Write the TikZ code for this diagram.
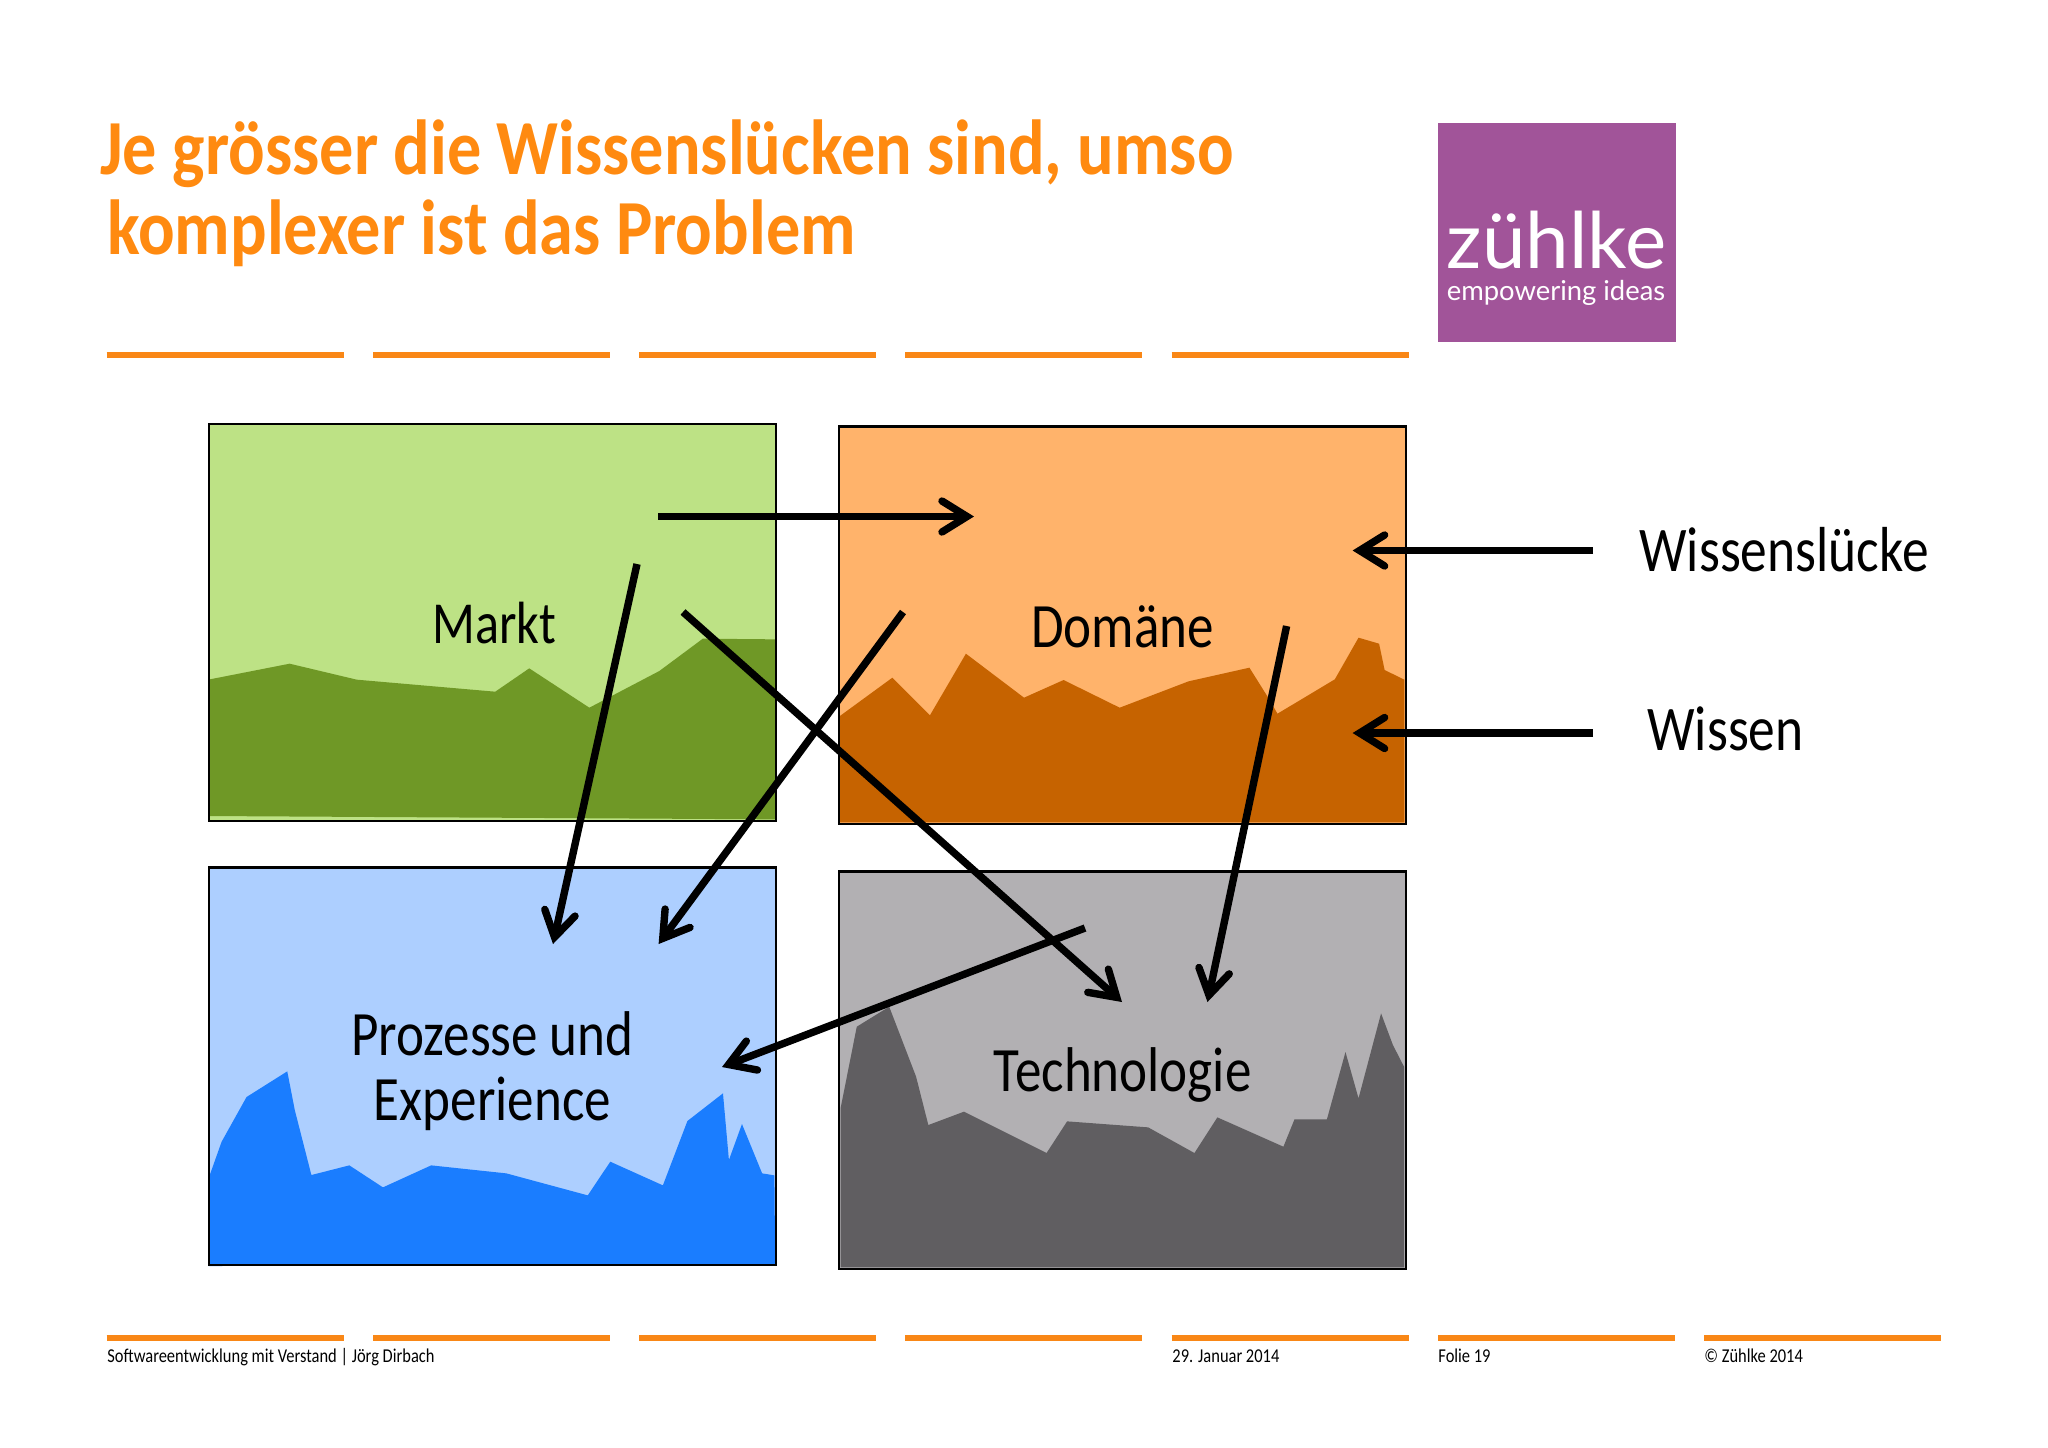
\documentclass[tikz,border=0pt]{standalone}
\usepackage{fontspec}
\usetikzlibrary{arrows.meta}
\setmainfont[FakeStretch=0.84]{Carlito}
\newfontfamily\titlefont[FakeStretch=0.875]{Carlito}
\newfontfamily\logofont{Lato}
\definecolor{ttl}{HTML}{FF8A10}
\definecolor{rulec}{HTML}{F98716}
\definecolor{gl}{HTML}{BDE285}
\definecolor{gd}{HTML}{6F9826}
\definecolor{ol}{HTML}{FFB36B}
\definecolor{od}{HTML}{C66300}
\definecolor{bl}{HTML}{ADCFFF}
\definecolor{bd}{HTML}{1A7DFF}
\definecolor{kl}{HTML}{B2B0B3}
\definecolor{kd}{HTML}{605E61}
\definecolor{logoc}{HTML}{A15499}
\tikzset{
  box/.style={draw=black,line width=1.1pt,inner sep=0pt,minimum width=283.4pt,minimum height=198.8pt},
  lab/.style={inner sep=0pt,align=center,font=\fontsize{31.6}{32.5}\selectfont},
  arr/.style={line width=3.7pt,-{Straight Barb[length=12.5pt,width=15.5pt,line cap=round,line join=miter]}},
  orule/.style={draw=rulec,line width=2.6pt},
  foot/.style={anchor=base west,inner sep=0pt,font=\fontsize{9.8}{12}\selectfont},
  side/.style={anchor=base west,inner sep=0pt,font=\fontsize{31.8}{34}\selectfont},
  ttlnode/.style={anchor=base west,inner sep=0pt,text=ttl,font=\titlefont\fontsize{39}{40}\selectfont\bfseries},
}
\begin{document}
\begin{tikzpicture}[x=0.5pt,y=-0.5pt]
\useasboundingbox (0,0) rectangle (2048,1447);
\fill[white] (0,0) rectangle (2048,1447);
% title
\node[ttlnode] (t1) at (100,174.5) {Je grösser die Wissenslücken sind, umso};
\node[ttlnode] (t2) at (107,254.5) {komplexer ist das Problem};
% logo
\node[fill=logoc,inner sep=0pt,minimum width=119.2pt,minimum height=109.6pt] (logo) at (1556.9,232.2) {};
\node[anchor=base,inner sep=0pt,text=white,font=\logofont\fontsize{39}{40}\selectfont] (lg1) at (1556.5,268) {zühlke};
\node[anchor=base,inner sep=0pt,text=white,font=\logofont\fontsize{13.7}{15}\selectfont] (lg2) at (1556,300) {empowering ideas};
% top rules
\foreach \a/\b [count=\i] in {106.5/344,373/610,639/876,905/1142,1171.5/1409}{
  \coordinate (ta\i) at (\a,355); \coordinate (tb\i) at (\b,355);
  \draw[orule] (ta\i) -- (tb\i);
}
% footer rules
\foreach \a/\b [count=\i] in {106.5/344,373/610,639/876,905/1142,1171.5/1409,1438/1675,1704/1941}{
  \coordinate (fa\i) at (\a,1338); \coordinate (fb\i) at (\b,1338);
  \draw[orule] (fa\i) -- (fb\i);
}
\node[foot] (f1) at (107,1362) {Softwareentwicklung mit Verstand | Jörg Dirbach};
\node[foot] (f2) at (1172,1362) {29. Januar 2014};
\node[foot] (f3) at (1438,1362) {Folie 19};
\node[foot] (f4) at (1704,1362) {© Zühlke 2014};
% green
\fill[gl] (208,423) rectangle (777,822);
\begin{scope}[shift={(190,410)},x=0.19770pt,y=-0.16667pt]
\fill[gd] (50,808)--(252,761)--(422,809)--(772,845)--(858,775)--(1010,893)--(1187,783)--(1297,686)--(1484,688)--(1484,1228)--(50,1218)--cycle;
\end{scope}
\node[box] (markt) at (492.5,622.5) {};
\node[lab,font=\fontsize{29.8}{32.5}\selectfont] (marktl) at (494,623.5) {Markt};
% orange
\fill[ol] (838.6,425.5) rectangle (1406.8,825);
\begin{scope}[shift={(820,410)},x=0.19770pt,y=-0.16667pt]
\fill[od] (48,920)--(183,803)--(278,916)--(369,731)--(516,863)--(616,810)--(758,893)--(932,814)--(1086,773)--(1132,860)--(1157,911)--(1302,808)--(1362,683)--(1414,701)--(1428,780)--(1478,809)--(1478,1237)--(48,1237)--cycle;
\end{scope}
\node[box] (dom) at (1122.7,625.3) {};
\node[lab] (doml) at (1122.7,626.5) {Domäne};
% blue
\fill[bl] (208,866.7) rectangle (777,1266);
\begin{scope}[shift={(190,850)},x=0.19770pt,y=-0.16667pt]
\fill[bd] (47,985)--(80,875)--(143,741)--(246,664)--(265,780)--(307,975)--(403,946)--(488,1012)--(610,946)--(800,970)--(1006,1036)--(1063,935)--(1196,1006)--(1258,813)--(1348,730)--(1363,930)--(1396,822)--(1447,970)--(1478,976)--(1480,1243)--(47,1248)--cycle;
\end{scope}
\node[box] (proz) at (492.5,1066.3) {};
\node[lab] (prozl) at (492.5,1071) {Prozesse und\\Experience};
% grey
\fill[kl] (838.6,870.7) rectangle (1406.8,1270);
\begin{scope}[shift={(820,850)},x=0.19770pt,y=-0.16667pt]
\fill[kd] (52,775)--(93,530)--(175,470)--(243,680)--(274,825)--(364,785)--(573,909)--(625,814)--(830,832)--(947,909)--(1005,802)--(1172,890)--(1200,808)--(1282,808)--(1329,606)--(1362,745)--(1419,490)--(1449,585)--(1477,650)--(1477,1252)--(52,1252)--cycle;
\end{scope}
\node[box] (tech) at (1122.7,1070.3) {};
\node[lab] (techl) at (1122.7,1075) {Technologie};
% side labels
\node[side] (ws) at (1639,571) {Wissenslücke};
\node[side] (wi) at (1647,750) {Wissen};
% arrows
\coordinate (a1s) at (658,516.5); \coordinate (a1e) at (974,516.5);
\coordinate (a2s) at (637,564); \coordinate (a2e) at (553,944);
\coordinate (a3s) at (683,612); \coordinate (a3e) at (1122,1002);
\coordinate (a4s) at (903,612); \coordinate (a4e) at (658.6,944);
\coordinate (a5s) at (1286.6,626); \coordinate (a5e) at (1207.5,1002);
\coordinate (a6s) at (1085,928); \coordinate (a6e) at (722,1067);
\coordinate (a7s) at (1593,550.5); \coordinate (a7e) at (1352.6,550.5);
\coordinate (a8s) at (1593,733); \coordinate (a8e) at (1352.6,733);
\foreach \i in {1,...,8}{\draw[arr] (a\i s) -- (a\i e);}
\end{tikzpicture}
\end{document}
